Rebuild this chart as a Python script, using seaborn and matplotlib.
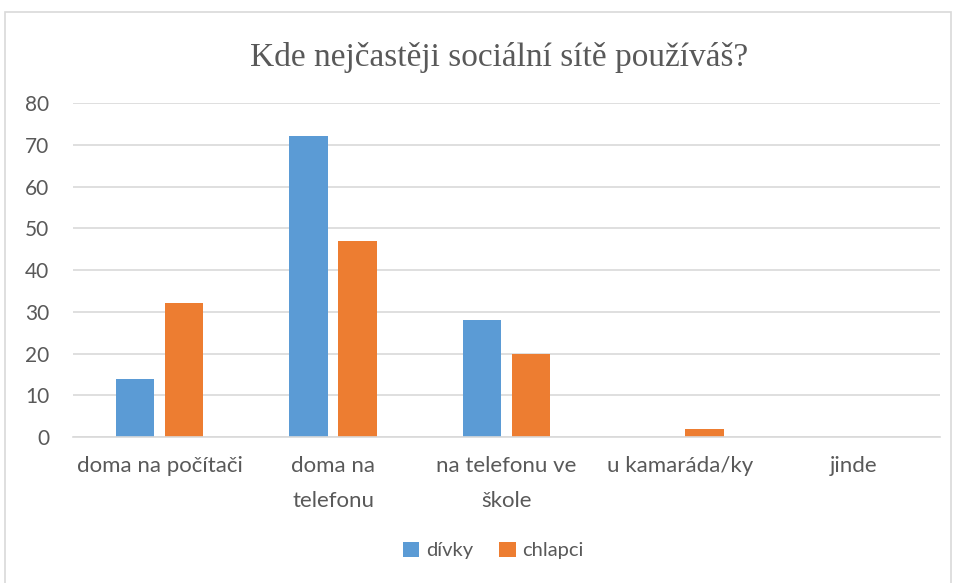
import matplotlib
matplotlib.use("Agg")
import matplotlib.pyplot as plt
from matplotlib.patches import Rectangle
import pandas as pd
import seaborn as sns

categories = ["doma na počítači", "doma na\ntelefonu", "na telefonu ve\nškole", "u kamaráda/ky", "jinde"]
divky = [14, 72, 28, 0, 0]
chlapci = [32, 47, 20, 2, 0]
series = ["dívky", "chlapci"]
title = "Kde nejčastěji sociální sítě používáš?"

df = pd.DataFrame({
    "kategorie": categories * 2,
    "pocet": divky + chlapci,
    "pohlavi": [series[0]] * len(categories) + [series[1]] * len(categories),
})

sns.set_theme(style="white")
plt.rcParams["font.family"] = ["Lato", "DejaVu Sans"]
txt = "#595959"
grid = "#D9D9D9"

fig = plt.figure(figsize=(9.54, 5.83), dpi=100)
ax = fig.add_axes([73 / 954, 0.2504, 867 / 954, 0.5729])

sns.barplot(data=df, x="kategorie", y="pocet", hue="pohlavi",
            palette=["#5B9BD5", "#ED7D31"], width=0.566, gap=0.22,
            saturation=1, linewidth=0, ax=ax, legend=True)

ax.set_ylim(0, 80)
ax.set_yticks(range(0, 81, 10))
ax.set_xlim(-0.5, len(categories) - 0.5)
ax.yaxis.grid(True, color=grid, linewidth=1.2)
ax.set_axisbelow(True)
for s in ["top", "right", "left"]:
    ax.spines[s].set_visible(False)
ax.spines["bottom"].set_color(grid)
ax.spines["bottom"].set_linewidth(1.2)
ax.set_xlabel("")
ax.set_ylabel("")
ax.tick_params(axis="y", length=0, pad=17, labelsize=15, labelcolor=txt)
ax.tick_params(axis="x", length=0, pad=14, labelsize=16, labelcolor=txt)
for lab in ax.get_xticklabels():
    lab.set_linespacing(1.9)
    lab.set_verticalalignment("top")

fig.text(499 / 954, 1 - 66 / 583, title, fontsize=24, color=txt,
         family="Liberation Serif", ha="center", va="baseline")

leg = ax.legend(loc="center", bbox_to_anchor=(0.485, -0.34), ncol=2,
                frameon=False, fontsize=14.5, handlelength=0.8, handleheight=0.8,
                handletextpad=0.35, columnspacing=1.3)
for t in leg.get_texts():
    t.set_color(txt)

fig.patches.append(Rectangle((5 / 954, -0.05), 946 / 954, 1.05 - 12 / 583,
                             transform=fig.transFigure, fill=False,
                             edgecolor=grid, linewidth=1.2))

fig.savefig("out.png", dpi=100)
